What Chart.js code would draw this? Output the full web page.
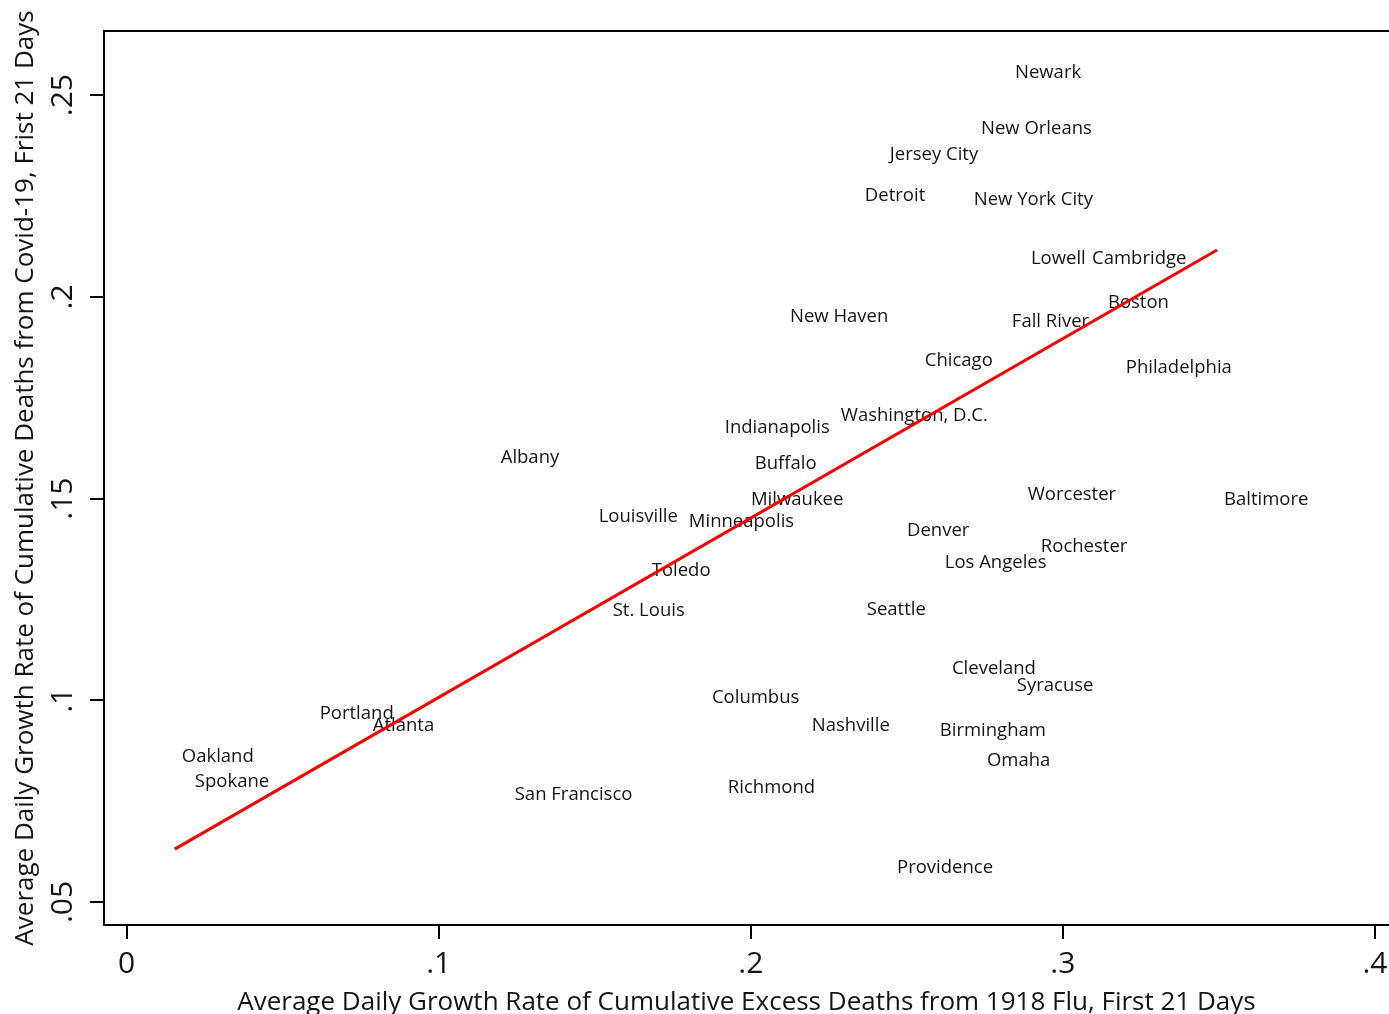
<!DOCTYPE html>
<html>
<head>
<meta charset="utf-8">
<title>Growth of deaths: 1918 flu vs Covid-19</title>
<script src="https://cdn.jsdelivr.net/npm/chart.js@4.4.1/dist/chart.umd.min.js"></script>
<style>
  html, body { margin: 0; padding: 0; background: #ffffff; overflow: hidden; }
  #wrap { width: 1389px; height: 1014px; position: relative; }
</style>
</head>
<body>
<div id="wrap"><canvas id="chart" width="1389" height="1014"></canvas></div>
<script>
// City names and their growth rates (1918 flu on x, Covid-19 on y)
const cities = [
  'Newark', 'New Orleans', 'Jersey City', 'Detroit', 'New York City',
  'Lowell', 'Cambridge', 'Boston', 'Fall River', 'New Haven',
  'Chicago', 'Philadelphia', 'Washington, D.C.', 'Indianapolis', 'Albany',
  'Buffalo', 'Milwaukee', 'Worcester', 'Baltimore', 'Louisville',
  'Minneapolis', 'Denver', 'Rochester', 'Los Angeles', 'Toledo',
  'St. Louis', 'Seattle', 'Cleveland', 'Syracuse', 'Columbus',
  'Portland', 'Atlanta', 'Nashville', 'Birmingham', 'Oakland',
  'Omaha', 'Spokane', 'Richmond', 'San Francisco', 'Providence'
];
const fluGrowth = [
  0.2824, 0.2715, 0.2423, 0.2343, 0.2692,
  0.2875, 0.3071, 0.3122, 0.2814, 0.2103,
  0.2535, 0.3179, 0.2266, 0.1894, 0.1176,
  0.1990, 0.1978, 0.2865, 0.3494, 0.1490,
  0.1779, 0.2478, 0.2907, 0.2599, 0.1660,
  0.1535, 0.2349, 0.2622, 0.2830, 0.1853,
  0.0596, 0.0766, 0.2173, 0.2583, 0.0154,
  0.2734, 0.0196, 0.1904, 0.1221, 0.2446
];
const covidGrowth = [
  0.2557, 0.2418, 0.2356, 0.2252, 0.2242,
  0.2096, 0.2096, 0.1989, 0.1942, 0.1952,
  0.1843, 0.1828, 0.1707, 0.1677, 0.1603,
  0.1588, 0.1499, 0.1511, 0.1499, 0.1457,
  0.1444, 0.1424, 0.1382, 0.1343, 0.1323,
  0.1224, 0.1226, 0.1080, 0.1038, 0.1008,
  0.0968, 0.0939, 0.0939, 0.0926, 0.0862,
  0.0852, 0.0800, 0.0785, 0.0768, 0.0587
];

// Linear fit line endpoints
const fitX = [0.0154, 0.3494];
const fitY = [0.0631, 0.2116];

// Axis ticks
const xTickValues = [0, 0.1, 0.2, 0.3, 0.4];
const xTickLabels = ['0', '.1', '.2', '.3', '.4'];
const yTickValues = [0.05, 0.1, 0.15, 0.2, 0.25];
const yTickLabels = ['.05', '.1', '.15', '.2', '.25'];

const xTitle = 'Average Daily Growth Rate of Cumulative Excess Deaths from 1918 Flu, First 21 Days';
const yTitle = 'Average Daily Growth Rate of Cumulative Deaths from Covid-19, Frist 21 Days';

const FONT = '"Open Sans", "Noto Sans", sans-serif';
const INK = '#141414';

const cityPoints = fluGrowth.map((x, i) => ({ x: x, y: covidGrowth[i] }));
const fitPoints = fitX.map((x, i) => ({ x: x, y: fitY[i] }));

// Write each city name just to the right of its (invisible) point,
// before the fit line is drawn so the line runs over the text
const cityLabels = {
  id: 'cityLabels',
  afterDatasetDraw(chart, args) {
    if (args.index !== 1) return;
    const ctx = chart.ctx;
    ctx.save();
    ctx.font = '18.5px ' + FONT;
    ctx.fillStyle = INK;
    ctx.textAlign = 'left';
    ctx.textBaseline = 'middle';
    args.meta.data.forEach((pt, i) => {
      ctx.fillText(cities[i], pt.x + 7, pt.y + 1);
    });
    ctx.restore();
  }
};

// Top frame line plus tick labels (y labels rotated to read upward)
const frame = {
  id: 'frame',
  afterDraw(chart) {
    const ctx = chart.ctx;
    const a = chart.chartArea;
    ctx.save();
    ctx.strokeStyle = '#000';
    ctx.lineWidth = 2;
    ctx.beginPath();
    ctx.moveTo(a.left - 1, a.top);
    ctx.lineTo(a.right, a.top);
    ctx.stroke();

    ctx.font = '30px ' + FONT;
    ctx.fillStyle = INK;
    ctx.textAlign = 'center';
    ctx.textBaseline = 'alphabetic';

    const xs = chart.scales.x;
    xs.ticks.forEach(t => {
      ctx.fillText(xTickLabels[xTickValues.indexOf(t.value)], xs.getPixelForValue(t.value), 973);
    });

    const ys = chart.scales.y;
    ys.ticks.forEach(t => {
      const py = ys.getPixelForValue(t.value);
      ctx.save();
      ctx.translate(72, py);
      ctx.rotate(-Math.PI / 2);
      ctx.fillText(yTickLabels[yTickValues.indexOf(t.value)], 0, 0);
      ctx.restore();
    });
    ctx.restore();
  }
};

new Chart(document.getElementById('chart'), {
  type: 'scatter',
  data: {
    datasets: [
      {
        type: 'line',
        label: 'Fitted values',
        data: fitPoints,
        borderColor: '#f50000',
        borderWidth: 3,
        pointRadius: 0,
        fill: false,
        tension: 0
      },
      {
        type: 'scatter',
        label: 'Cities',
        data: cityPoints,
        pointRadius: 0,
        pointHoverRadius: 0
      }
    ]
  },
  options: {
    responsive: false,
    devicePixelRatio: 1,
    animation: false,
    events: [],
    layout: { padding: { top: 31, right: 0, bottom: 0, left: 0 }, autoPadding: false },
    plugins: { legend: { display: false }, tooltip: { enabled: false } },
    scales: {
      x: {
        type: 'linear',
        min: -0.00727,
        max: 0.4045,
        afterBuildTicks: s => { s.ticks = xTickValues.map(v => ({ value: v })); },
        afterFit: s => { s.height = 89; },
        ticks: { display: false },
        grid: { drawOnChartArea: false, drawTicks: true, tickLength: 14, color: '#000', lineWidth: 2 },
        border: { display: true, color: '#000', width: 2 },
        title: {
          display: true,
          text: xTitle,
          font: { family: FONT, size: 26, lineHeight: 0.88 },
          color: INK,
          padding: { top: 0, bottom: 0 }
        }
      },
      y: {
        type: 'linear',
        min: 0.0443,
        max: 0.2659,
        afterBuildTicks: s => { s.ticks = yTickValues.map(v => ({ value: v })); },
        afterFit: s => { s.width = 104; },
        ticks: { display: false },
        grid: { drawOnChartArea: false, drawTicks: true, tickLength: 14, color: '#000', lineWidth: 2 },
        border: { display: true, color: '#000', width: 2 },
        title: {
          display: true,
          text: yTitle,
          font: { family: FONT, size: 26, lineHeight: 1.2 },
          color: INK,
          padding: { top: 10, bottom: 0 }
        }
      }
    }
  },
  plugins: [cityLabels, frame]
});
</script>
</body>
</html>
